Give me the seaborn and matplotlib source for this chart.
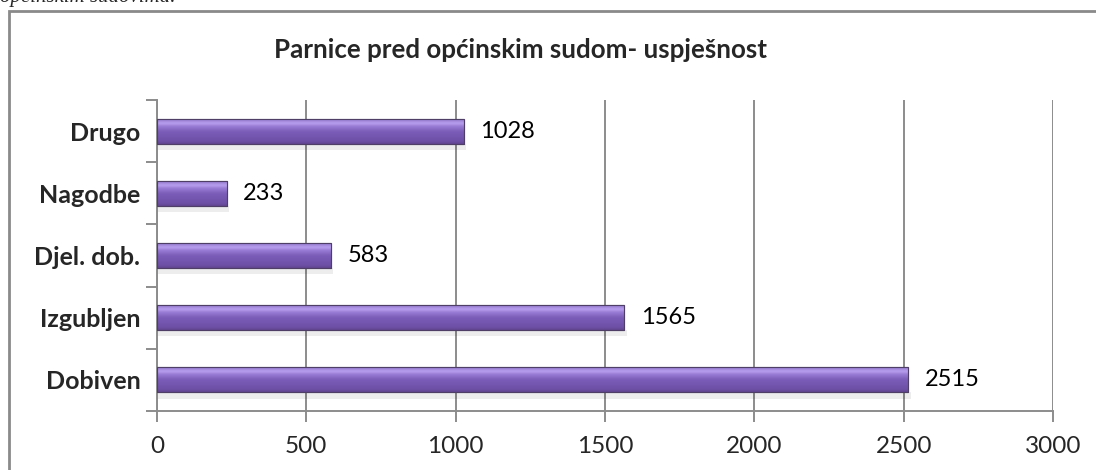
import numpy as np
import pandas as pd
import matplotlib
matplotlib.use("Agg")
import matplotlib.pyplot as plt
from matplotlib.patches import Rectangle
from matplotlib.colors import LinearSegmentedColormap
import seaborn as sns

categories = ["Drugo", "Nagodbe", "Djel. dob.", "Izgubljen", "Dobiven"]
values = [1028, 233, 583, 1565, 2515]
x_ticks = [0, 500, 1000, 1500, 2000, 2500, 3000]
title = "Parnice pred općinskim sudom- uspješnost"

df = pd.DataFrame({"kategorija": categories, "broj": values})

sns.set_theme(style="white")
plt.rcParams["font.family"] = ["Lato", "DejaVu Sans"]

fig = plt.figure(figsize=(10.96, 4.70), dpi=100)
ax = fig.add_axes([0.1432, 0.1255, 0.8176, 0.6615])

sns.barplot(data=df, x="broj", y="kategorija", order=categories, orient="h",
            color="#7B5CB8", width=0.4, ax=ax, saturation=1,
            edgecolor="#5a4a6e", linewidth=0.8, zorder=3)

# glossy vertical shading on each bar (light band near the top), clipped to the bar
bar_cmap = LinearSegmentedColormap.from_list(
    "gloss", [(0.0, "#62468f"), (0.12, "#6e50a8"), (0.50, "#7b5cb8"),
              (0.72, "#9a7dd6"), (0.84, "#b9a0ee"), (1.0, "#9175cc")])
grad = np.linspace(1, 0, 64).reshape(-1, 1)
for patch in ax.patches:
    x0, y0 = patch.get_x(), patch.get_y()
    w, h = patch.get_width(), patch.get_height()
    # soft shadow beneath the bar
    ax.add_patch(Rectangle((x0, y0 + h), w + 8, h * 0.25, facecolor="#000000",
                           alpha=0.07, edgecolor="none", zorder=2))
    im = ax.imshow(grad, extent=(x0, x0 + w, y0 + h, y0), origin="upper",
                   cmap=bar_cmap, aspect="auto", zorder=3.5,
                   interpolation="bicubic")
    im.set_clip_path(patch)
    ax.add_patch(Rectangle((x0, y0), w, h, facecolor="none",
                           edgecolor="#4f3f66", linewidth=0.8, zorder=4))

for i, v in enumerate(values):
    ax.text(v + 55, i, f"{v}", va="center", ha="left", fontsize=17,
            color="black", zorder=5)

ax.set_xlim(0, 3000)
ax.set_ylim(len(categories) - 0.5, -0.5)
ax.set_xticks(x_ticks)
ax.set_xticklabels([str(t) for t in x_ticks], fontsize=17.5)
ax.set_yticks(range(len(categories)))
ax.set_yticklabels(categories, fontsize=18, fontweight="bold")
ax.set_yticks(np.arange(-0.5, len(categories)), minor=True)
ax.set_xlabel("")
ax.set_ylabel("")

ax.grid(axis="x", color="#8c8c8c", linewidth=1.4, zorder=0)
ax.set_axisbelow(True)
for side in ["top", "right"]:
    ax.spines[side].set_visible(False)
for side in ["left", "bottom"]:
    ax.spines[side].set_color("#8c8c8c")
    ax.spines[side].set_linewidth(1.4)

ax.tick_params(axis="x", which="major", length=8, width=1.4, color="#8c8c8c",
               pad=10, bottom=True)
ax.tick_params(axis="y", which="major", length=0, pad=12)
ax.tick_params(axis="y", which="minor", length=8, width=1.4, color="#8c8c8c",
               left=True)

fig.text(0.475, 0.893, title, ha="center", va="center", fontsize=18.6,
         fontweight="bold")

# chart frame (extends past the right and bottom edges)
fig.patches.append(Rectangle((9 / 1096, -0.1), 1.2, 1 - 11 / 470 + 0.1,
                             transform=fig.transFigure, facecolor="none",
                             edgecolor="#8a8a8a", linewidth=2, zorder=0))

# surrounding document line, cut by the top edge
fig.text(0.0, 1 - 2 / 470, "općinskim sudovima.", ha="left", va="baseline",
         fontsize=15, fontstyle="italic", family=["Liberation Serif"])

fig.savefig("out.png", dpi=100)
